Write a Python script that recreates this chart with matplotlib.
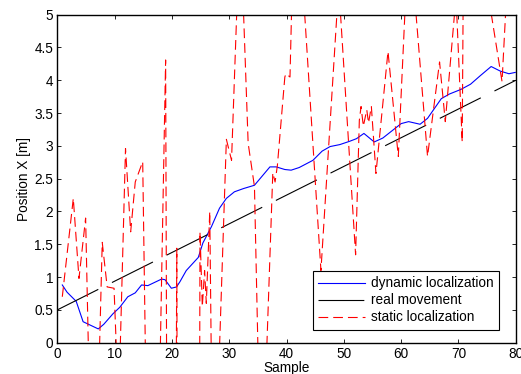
import matplotlib
matplotlib.use('Agg')
import matplotlib.pyplot as plt
from matplotlib.ticker import FormatStrFormatter, MultipleLocator

plt.rcParams['font.family'] = ['Liberation Sans', 'DejaVu Sans']
plt.rcParams['lines.scale_dashes'] = False

# dynamic localization (blue)
sample_dyn = [0.87, 1.7, 2.5, 3.3, 4.5, 5.7, 7.15, 8.1, 9.7, 10.9, 12.3, 13.6,
              14.7, 15.8, 18.2, 18.8, 19.9, 20.8, 21.4, 22.5, 24.6, 25.4, 26.9,
              28.3, 29.5, 30.9, 32.5, 34.4, 37.1, 38.2, 39.7, 40.8, 42.2, 44.6,
              46.2, 47.6, 49.3, 51.0, 52.2, 53.5, 55.3, 56.8, 58.4, 60.0, 61.3,
              63.3, 64.6, 65.8, 67.0, 68.4, 70.4, 72.1, 73.8, 75.7, 77.3, 78.8, 79.9]
pos_dyn = [0.88, 0.77, 0.70, 0.63, 0.32, 0.27, 0.21, 0.28, 0.44, 0.54, 0.70, 0.76,
           0.88, 0.87, 0.97, 0.96, 0.83, 0.85, 0.93, 1.10, 1.30, 1.52, 1.77,
           2.05, 2.20, 2.30, 2.35, 2.40, 2.68, 2.68, 2.64, 2.63, 2.67, 2.78,
           2.92, 2.99, 3.02, 3.07, 3.11, 3.19, 3.06, 3.12, 3.23, 3.34, 3.37,
           3.33, 3.42, 3.57, 3.72, 3.79, 3.86, 3.94, 4.07, 4.21, 4.14, 4.10, 4.12]

# real movement (black)
sample_real = [0, 80]
pos_real = [0.5, 4.0]

# static localization (red), values outside 0..5 are clipped by the axes
sample_static = [0.87, 2.79, 3.78, 4.94, 6.3, 7.84, 8.7, 9.9, 10.7, 11.9, 12.8,
                 13.6, 14.9, 16.5, 18.9, 19.8, 20.85, 21.4, 24.3, 24.9, 25.3,
                 25.7, 26.0, 26.6, 27.2, 29.5, 30.4, 31.9, 33.3, 34.4, 35.6,
                 37.6, 38.0, 38.4, 39.7, 39.9, 40.6, 41.5, 46.0, 49.1, 52.05,
                 52.7, 53.0, 53.4, 54.0, 54.3, 54.8, 55.6, 57.7, 59.5, 61.35,
                 64.6, 66.7, 67.7, 69.57, 70.65, 71.0, 77.6, 80.0]
pos_static = [0.70, 2.20, 0.98, 1.90, -3.7, 1.53, 0.85, 0.83, -1.0, 2.96, 1.69,
              2.45, 2.76, -7.1, 4.31, -20.0, 1.44, -20.0, -20.0, 1.69, 0.55,
              1.10, 0.60, 2.00, -3.0, 3.10, 2.78, 6.5, 3.04, 2.38, -2.5,
              2.59, 2.45, 2.70, 4.05, 4.10, 4.05, 7.3, 1.10, 5.45, 1.34,
              3.39, 3.60, 3.30, 3.55, 3.35, 3.60, 2.58, 4.44, 2.84, 6.35,
              2.84, 4.28, 3.37, 5.28, 3.06, 7.6, 3.98, 8.0]

fig = plt.figure(figsize=(5.21, 3.74), dpi=100)
ax = fig.add_axes([0.110, 0.0837, 0.880, 0.877])

ax.plot(sample_dyn, pos_dyn, color='#0000ff', lw=0.8, label='dynamic localization')
ax.plot(sample_real, pos_real, color='black', lw=0.8, dashes=(33, 11),
        label='real movement')
ax.plot(sample_static, pos_static, color='#ff0000', lw=0.8, dashes=(7, 3.6),
        label='static localization')

ax.set_xlim(0, 80)
ax.set_ylim(0, 5)
ax.xaxis.set_major_locator(MultipleLocator(10))
ax.yaxis.set_major_locator(MultipleLocator(0.5))
ax.yaxis.set_major_formatter(FormatStrFormatter('%g'))
ax.tick_params(direction='in', top=True, right=True, length=3, width=0.6,
               labelsize=9.8, pad=3)
for s in ax.spines.values():
    s.set_linewidth(1.0)

ax.set_xlabel('Sample', fontsize=9.8, labelpad=0)
ax.set_ylabel('Position X [m]', fontsize=9.8, labelpad=2)

leg = ax.legend(loc='lower right', bbox_to_anchor=(0.9636, 0.0387),
                borderaxespad=0, fancybox=False, edgecolor='black',
                framealpha=1, fontsize=9.8, handlelength=3.4,
                handletextpad=0.45, labelspacing=0.22, borderpad=0.42)
leg.get_frame().set_linewidth(0.8)

fig.savefig('out.png', dpi=100)
